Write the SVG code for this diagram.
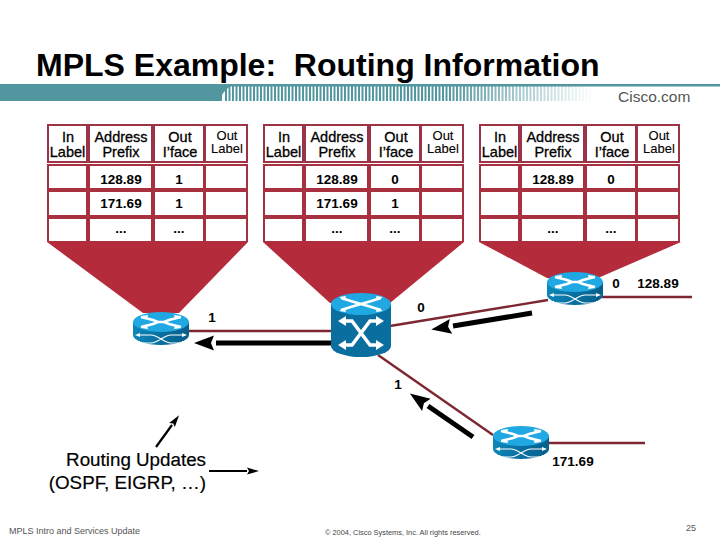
<svg xmlns="http://www.w3.org/2000/svg" width="720" height="540" viewBox="0 0 720 540">
<style>
text{font-family:"Liberation Sans",Arial,sans-serif;fill:#000}
.title{font-size:32px;font-weight:700}
.h{font-size:14.500px;text-anchor:middle;stroke:#000;stroke-width:.3}
.ol{font-size:13px;text-anchor:middle;stroke:#000;stroke-width:.1}
.c{font-size:13.500px;text-anchor:middle;font-weight:700}
.l{font-size:13.500px;text-anchor:middle;font-weight:700}
.ru{font-size:18.800px;text-anchor:end;stroke:#000;stroke-width:.2}
.wire{stroke:#7d2733;stroke-width:2.300;fill:none}
.up{stroke:#000;stroke-width:5;fill:none}
.up2{stroke:#000;stroke-width:2.200;fill:none}
.w{fill:#fff}
.fn{fill:#b42b3c}
</style>
<defs>
<linearGradient id="fade" gradientUnits="userSpaceOnUse" x1="222" y1="0" x2="595" y2="0">
<stop offset="0" stop-color="#5297a0"/><stop offset=".6" stop-color="#5297a0"/><stop offset="1" stop-color="#5297a0" stop-opacity="0"/>
</linearGradient>
<linearGradient id="side" x1="0" y1="0" x2="1" y2="0">
<stop offset="0" stop-color="#0c86b8"/><stop offset=".5" stop-color="#0a6f9f"/><stop offset="1" stop-color="#075f8c"/>
</linearGradient>
<marker id="head" markerUnits="userSpaceOnUse" markerWidth="26" markerHeight="18" refX="4" refY="9" orient="auto">
<path d="M26,9 L6,1.500 L9,9 L6,16.500 Z"/>
</marker>
<marker id="head2" markerUnits="userSpaceOnUse" markerWidth="14" markerHeight="10" refX="2" refY="5" orient="auto">
<path d="M14,5 L2,1.500 L4,5 L2,8.500 Z"/>
</marker>
<g id="grid">
<rect x="0" y="0" width="201" height="39" fill="#9c3347"/>
<rect x="0" y="40" width="201" height="78" fill="#a8303f"/>
<rect class="w" x="2" y="2" width="37" height="35"/><rect class="w" x="43" y="2" width="61" height="35"/><rect class="w" x="108" y="2" width="48" height="35"/><rect class="w" x="159" y="2" width="40" height="35"/>
<rect class="w" x="2" y="42" width="37" height="22"/><rect class="w" x="43" y="42" width="61" height="22"/><rect class="w" x="108" y="42" width="48" height="22"/><rect class="w" x="159" y="42" width="40" height="22"/>
<rect class="w" x="2" y="68" width="37" height="23"/><rect class="w" x="43" y="68" width="61" height="23"/><rect class="w" x="108" y="68" width="48" height="23"/><rect class="w" x="159" y="68" width="40" height="23"/>
<rect class="w" x="2" y="95" width="37" height="22"/><rect class="w" x="43" y="95" width="61" height="22"/><rect class="w" x="108" y="95" width="48" height="22"/><rect class="w" x="159" y="95" width="40" height="22"/>
<g>
<text class="h" x="21" y="18">In</text><text class="h" x="20.500" y="33">Label</text>
<text class="h" x="74" y="18">Address</text><text class="h" x="74" y="33">Prefix</text>
<text class="h" x="133" y="18">Out</text><text class="h" x="133" y="33">I’face</text>
<text class="ol" x="180" y="16">Out</text><text class="ol" x="180" y="29">Label</text>
</g>
</g>
<g id="router">
<path d="M-28,0 V13 A28,10 0 0 0 28,13 V0 Z" fill="url(#side)"/>
<ellipse cx="0" cy="0" rx="28" ry="10" fill="#1fa8e2"/>
<path d="M-20,-5 L-8,-2 L-3,0 L3,0 L8,2 L20,5 M20,-5 L8,-2 L3,0 L-3,0 L-8,2 L-20,5" stroke="#fff" stroke-width="2.500" fill="none"/>
<path d="M-20,-6 l7,-1 l-1,4 Z M20,-6 l-7,-1 l1,4 Z M-20,6 l7,1 l-1,-4 Z M20,6 l-7,1 l1,-4 Z" fill="#fff"/>
<path d="M-24,13 H-10 C-3,13 3,21 10,21 H24 M-24,21 H-10 C-3,21 3,13 10,13 H24" stroke="#fff" stroke-width="1.200" fill="none"/>
<path d="M-26,13 l5,-2 v4 Z M26,13 l-5,-2 v4 Z M-26,21 l5,-2 v4 Z M26,21 l-5,-2 v4 Z" fill="#fff"/>
</g>
</defs>

<g id="header">
<rect x="0" y="84" width="222" height="17" fill="#5297a0"/>
<path d="M218,101 L224,92 L230,86 L218,86 Z" fill="#5297a0"/>
<rect x="222" y="84" width="498" height="2.500" fill="#5297a0"/>
<line x1="225" y1="93.500" x2="595" y2="93.500" stroke="url(#fade)" stroke-width="15" stroke-dasharray="2 1.500"/>
<text class="title" x="36" y="76" xml:space="preserve">MPLS Example:  Routing Information</text>
<text x="618" y="102" font-size="15.500" style="fill:#555">Cisco.com</text>
</g>

<g id="funnel-1"><polygon class="fn" points="47,242 248,242 179,313 143,313"/></g>
<g id="funnel-2"><polygon class="fn" points="263,242 464,242 390,303 330,303"/></g>
<g id="funnel-3"><polygon class="fn" points="479,242 681,242 598,278 547,278"/></g>

<g id="table-1" transform="translate(47,124)"><use href="#grid"/>
<text class="c" x="74" y="60">128.89</text><text class="c" x="132" y="60">1</text>
<text class="c" x="74" y="84">171.69</text><text class="c" x="132" y="84">1</text>
<text class="c" x="74" y="109">...</text><text class="c" x="132" y="109">...</text></g>
<g id="table-2" transform="translate(263,124)"><use href="#grid"/>
<text class="c" x="74" y="60">128.89</text><text class="c" x="132" y="60">0</text>
<text class="c" x="74" y="84">171.69</text><text class="c" x="132" y="84">1</text>
<text class="c" x="74" y="109">...</text><text class="c" x="132" y="109">...</text></g>
<g id="table-3" transform="translate(479,124)"><use href="#grid"/>
<text class="c" x="74" y="60">128.89</text><text class="c" x="132" y="60">0</text>
<text class="c" x="74" y="109">...</text><text class="c" x="132" y="109">...</text></g>

<g id="connectors">
<line class="wire" x1="189" y1="331" x2="332" y2="331"/>
<line class="wire" x1="390" y1="326" x2="548" y2="300"/>
<line class="wire" x1="378" y1="355" x2="493" y2="435"/>
<line class="wire" x1="602" y1="297" x2="692" y2="297"/>
<line class="wire" x1="548" y1="443" x2="645" y2="443"/>
<line class="up" x1="331" y1="343" x2="216" y2="343" marker-end="url(#head)"/>
<line class="up" x1="532" y1="313" x2="453" y2="326" marker-end="url(#head)"/>
<line class="up" x1="473" y1="437" x2="428" y2="406" marker-end="url(#head)"/>
<line class="up2" x1="156" y1="447" x2="172" y2="425" marker-end="url(#head2)"/>
<line class="up2" x1="209" y1="471" x2="247" y2="471" marker-end="url(#head2)"/>
</g>

<g id="router-left" transform="translate(161,322)"><use href="#router"/></g>
<g id="router-top" transform="translate(575,282)"><use href="#router"/></g>
<g id="router-bottom" transform="translate(521,436)"><use href="#router"/></g>
<g id="switch-center">
<path d="M331,304 V346 A30,11 0 0 0 391,346 V304 Z" fill="#0a6f9f"/>
<ellipse cx="361" cy="304" rx="30" ry="11" fill="#1fa8e2"/>
<path d="M341,298 L354,302 L368,306 L381,310 M381,298 L368,302 L354,306 L341,310" stroke="#fff" stroke-width="2.500" fill="none"/>
<path d="M339,297 l7,-1 l-1,4 Z M383,297 l-7,-1 l1,4 Z M339,311 l7,1 l-1,-4 Z M383,311 l-7,1 l1,-4 Z" fill="#fff"/>
<path d="M342,321 H352 L370,345 H380 M342,345 H352 L370,321 H380" stroke="#fff" stroke-width="3.500" fill="none"/>
<path d="M338,321 l8,-5 v10 Z M384,321 l-8,-5 v10 Z M338,345 l8,-5 v10 Z M384,345 l-8,-5 v10 Z" fill="#fff"/>
</g>

<g id="labels">
<text class="l" x="212" y="322">1</text>
<text class="l" x="421" y="312">0</text>
<text class="l" x="398" y="389">1</text>
<text class="l" x="616" y="288">0</text>
<text class="l" x="658" y="288">128.89</text>
<text class="l" x="573" y="466">171.69</text>
<text class="ru" x="206" y="466">Routing Updates</text>
<text class="ru" x="206" y="489">(OSPF, EIGRP, …)</text>
</g>

<g id="footer">
<text x="9" y="534" font-size="9" style="fill:#555">MPLS Intro and Services Update</text>
<text x="325" y="535" font-size="7.400" style="fill:#444">© 2004, Cisco Systems, Inc. All rights reserved.</text>
<text x="686" y="531" font-size="9" style="fill:#555">25</text>
</g>
</svg>
